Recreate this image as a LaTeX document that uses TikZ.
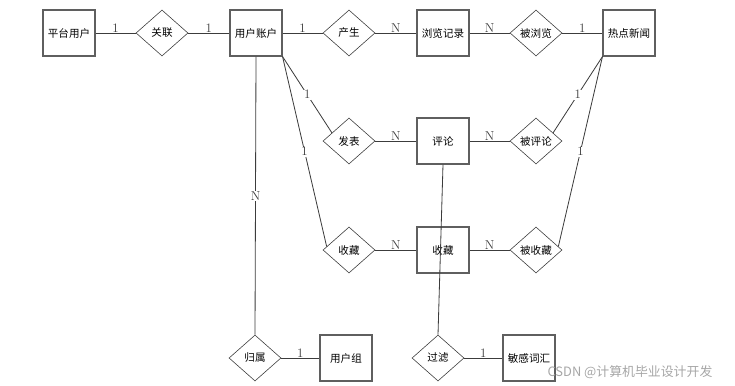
\documentclass[tikz,border=0pt]{standalone}
\usepackage{fontspec}
\newfontfamily\cjk{Noto Sans CJK SC}
\usetikzlibrary{shapes.geometric,calc}
\definecolor{erline}{RGB}{60,60,60}
\definecolor{erbox}{RGB}{95,95,95}
\tikzset{
    entity/.style={rectangle, draw=erbox, line width=0.9pt, minimum width=1.56cm, minimum height=1.38cm, inner sep=0pt, font=\cjk\fontsize{9}{9}\selectfont},
    relation/.style={diamond, draw=erline, line width=0.5pt, minimum width=1.56cm, minimum height=1.38cm, inner sep=0pt, font=\cjk\fontsize{9}{9}\selectfont},
    link/.style={erline, line width=0.7pt},
    card/.style={font=\fontsize{11}{11}\selectfont, fill=white, inner sep=0.6pt, midway},
    cardH/.style={card, yshift=4pt},
}

\begin{document}
\begin{tikzpicture}[x=0.03cm, y=-0.03cm]
    \useasboundingbox (0,0) rectangle (735,385);

    % top row
    \node[entity] (ptyh) at (69,33) {平台用户};
    \node[relation] (gl) at (162,33) {关联};
    \node[entity] (yhzh) at (256,33) {用户账户};
    \node[relation] (cs) at (349,33) {产生};
    \node[entity] (lljl) at (443,33) {浏览记录};
    \node[relation] (bll) at (536,33) {被浏览};
    \node[entity] (rdxw) at (629,33) {热点新闻};

    % middle rows
    \node[relation] (fb) at (349,141) {发表};
    \node[entity] (pl) at (443,141) {评论};
    \node[relation] (bpl) at (536,141) {被评论};
    \node[relation] (scR) at (349,250) {收藏};
    \node[entity] (sc) at (443,250) {收藏};
    \node[relation] (bsc) at (536,250) {被收藏};

    % bottom row
    \node[relation] (gs) at (255,358) {归属};
    \node[entity] (yhz) at (346,358) {用户组};
    \node[relation] (glv) at (438,358) {过滤};
    \node[entity] (mgch) at (529,358) {敏感词汇};

    % connectors
    \draw[link] (ptyh) -- (gl) node[cardH] {1};
    \draw[link] (gl) -- (yhzh) node[cardH] {1};
    \draw[link] (yhzh) -- (cs) node[cardH] {1};
    \draw[link] (cs) -- (lljl) node[cardH] {N};
    \draw[link] (lljl) -- (bll) node[cardH] {N};
    \draw[link] (bll) -- (rdxw) node[cardH] {1};

    \draw[link] (fb) -- (pl) node[cardH] {N};
    \draw[link] (pl) -- (bpl) node[cardH] {N};
    \draw[link] (scR) -- (sc) node[cardH] {N};
    \draw[link] (sc) -- (bsc) node[cardH] {N};

    \draw[link] (yhzh.south east) -- ($(fb.west)!0.35!(fb.north)$) node[card] {1};
    \draw[link] (yhzh.south east) -- ($(scR.west)!0.15!(scR.north)$) node[card] {1};
    \draw[link] (rdxw.south west) -- ($(bpl.east)!0.35!(bpl.north)$) node[card] {1};
    \draw[link] (rdxw.south west) -- ($(bsc.east)!0.15!(bsc.north)$) node[card] {1};

    \draw[link] (yhzh.south) -- (gs.north) node[card] {N};
    \draw[link] (gs) -- (yhz) node[cardH] {1};
    \draw[link] (pl.south) -- (glv.north);
    \draw[link] (glv) -- (mgch) node[cardH] {1};

    % watermark
    \node[font=\cjk\fontsize{11}{11}\selectfont, text=black!35] (wm) at (630,372) {CSDN @计算机毕业设计开发};
\end{tikzpicture}
\end{document}
